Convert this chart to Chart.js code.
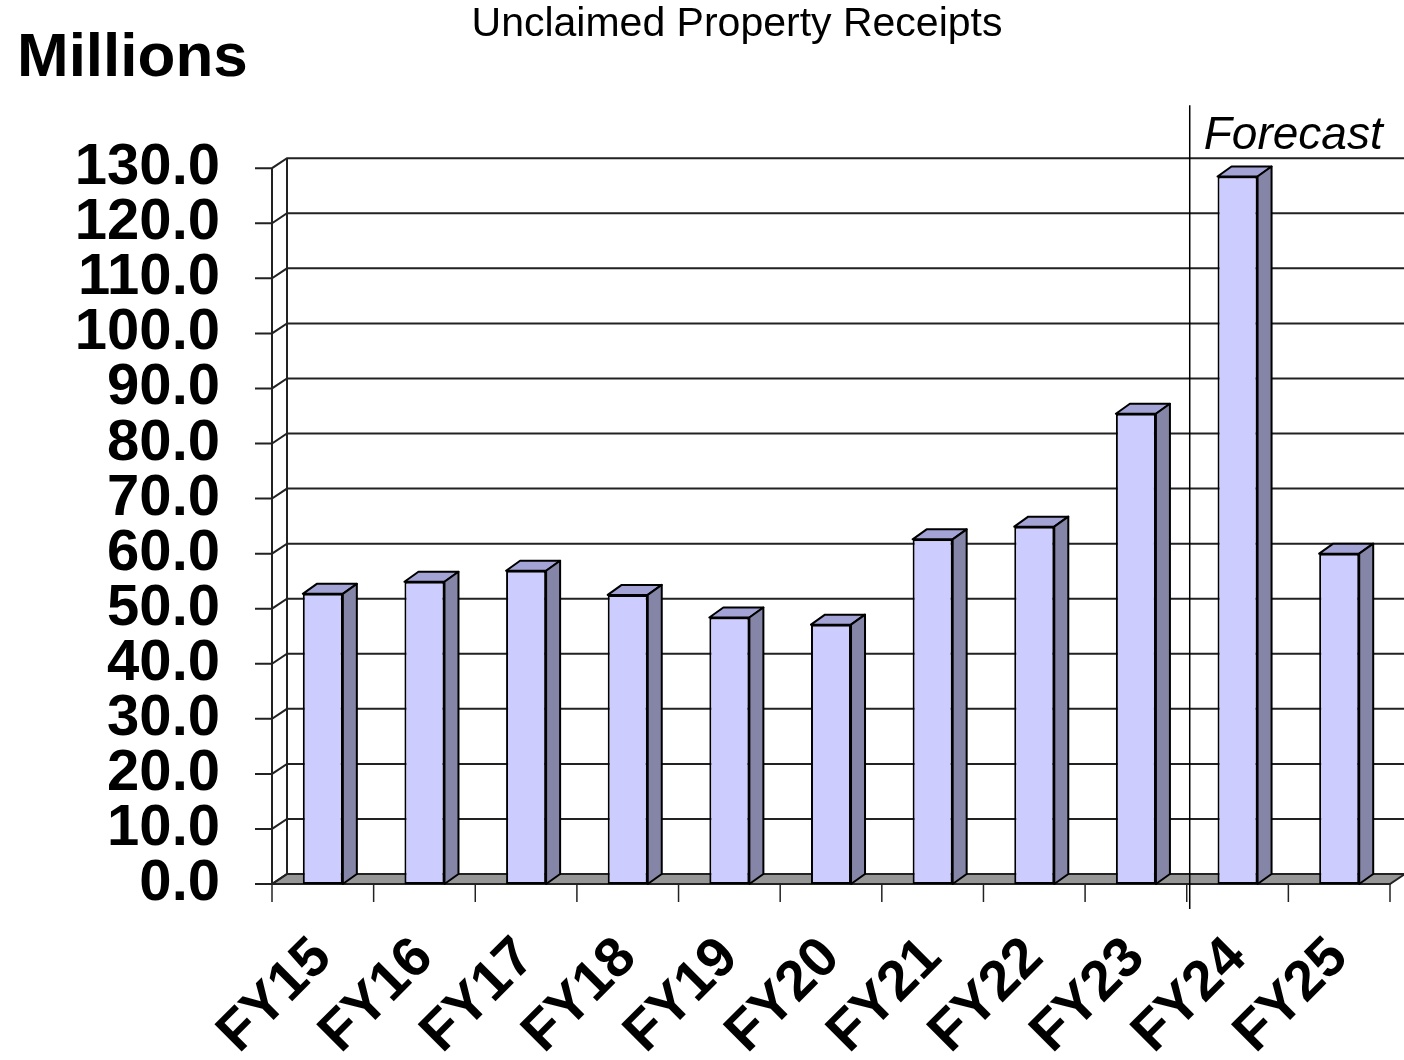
<!DOCTYPE html>
<html>
<head>
<meta charset="utf-8">
<title>Unclaimed Property Receipts</title>
<script src="https://cdn.jsdelivr.net/npm/chart.js@4.4.1/dist/chart.umd.min.js"></script>
<style>
  html, body { margin: 0; padding: 0; background: #fff; }
  #wrap { width: 1404px; height: 1060px; position: relative; }
</style>
</head>
<body>
<div id="wrap"><canvas id="chart"></canvas></div>
<script>
// values (millions)
const fiscalYears = ['FY15', 'FY16', 'FY17', 'FY18', 'FY19', 'FY20', 'FY21', 'FY22', 'FY23', 'FY24', 'FY25'];
const receipts = [52.7, 54.9, 56.9, 52.5, 48.4, 47.1, 62.6, 64.9, 85.4, 128.5, 60.0];
const yMin = 0;
const yMax = 130;
const yStep = 10;
const firstForecastYear = 'FY24';

const FONT = '"Liberation Sans", Arial, Helvetica, sans-serif';
const FRONT = '#ccccff';
const TOP = '#a3a3d6';
const SIDE = '#8585a8';
const FLOOR = '#969696';
const LINE = '#222';

// fake 3D depth of walls and bars
const DX = 15;
const DY = -10;

const frame3d = {
  id: 'frame3d',
  beforeDatasetsDraw(chart) {
    const { ctx, chartArea: a, scales: { x, y } } = chart;
    const y0 = y.getPixelForValue(0);
    ctx.save();
    ctx.lineWidth = 2;
    ctx.strokeStyle = LINE;

    // floor
    ctx.fillStyle = FLOOR;
    ctx.beginPath();
    ctx.moveTo(a.left, y0);
    ctx.lineTo(a.left + DX, y0 + DY);
    ctx.lineTo(a.right + DX, y0 + DY);
    ctx.lineTo(a.right, y0);
    ctx.closePath();
    ctx.fill();
    ctx.stroke();

    // gridlines on back wall, with ticks + diagonals on the side wall
    y.ticks.forEach(t => {
      const py = y.getPixelForValue(t.value);
      ctx.beginPath();
      ctx.moveTo(a.left - 17, py);
      ctx.lineTo(a.left, py);
      ctx.lineTo(a.left + DX, py + DY);
      ctx.lineTo(a.right + DX, py + DY);
      ctx.stroke();
    });

    // wall verticals
    ctx.beginPath();
    ctx.moveTo(a.left, a.top);
    ctx.lineTo(a.left, y0);
    ctx.moveTo(a.left + DX, a.top + DY);
    ctx.lineTo(a.left + DX, y0 + DY);
    ctx.stroke();

    // category ticks under the floor
    ctx.lineWidth = 1.5;
    const step = (a.right - a.left) / fiscalYears.length;
    for (let i = 0; i <= fiscalYears.length; i++) {
      const px = a.left + i * step;
      ctx.beginPath();
      ctx.moveTo(px, y0);
      ctx.lineTo(px, y0 + 18);
      ctx.stroke();
    }
    ctx.restore();
  },
  afterDatasetsDraw(chart) {
    const { ctx, chartArea: a, scales: { x, y } } = chart;
    ctx.save();
    ctx.lineWidth = 2;
    ctx.strokeStyle = '#000';
    ctx.lineJoin = 'round';
    chart.getDatasetMeta(0).data.forEach(bar => {
      const p = bar.getProps(['x', 'y', 'base', 'width'], true);
      const l = p.x - p.width / 2;
      const r = p.x + p.width / 2;

      ctx.fillStyle = TOP;
      ctx.beginPath();
      ctx.moveTo(l, p.y);
      ctx.lineTo(l + DX - 1, p.y + DY);
      ctx.lineTo(r + DX - 1, p.y + DY);
      ctx.lineTo(r, p.y);
      ctx.closePath();
      ctx.fill();
      ctx.stroke();

      ctx.fillStyle = SIDE;
      ctx.beginPath();
      ctx.moveTo(r, p.y);
      ctx.lineTo(r + DX - 1, p.y + DY);
      ctx.lineTo(r + DX - 1, p.base + DY);
      ctx.lineTo(r, p.base);
      ctx.closePath();
      ctx.fill();
      ctx.stroke();
    });

    // forecast divider
    const i = fiscalYears.indexOf(firstForecastYear);
    const fx = (x.getPixelForValue(i - 1) + x.getPixelForValue(i)) / 2 + 3;
    const y0 = y.getPixelForValue(0);
    ctx.strokeStyle = '#000';
    ctx.lineWidth = 1.5;
    ctx.beginPath();
    ctx.moveTo(fx, a.top - 63);
    ctx.lineTo(fx, y0 + 25);
    ctx.stroke();

    ctx.fillStyle = '#000';
    ctx.textAlign = 'left';
    ctx.textBaseline = 'alphabetic';
    ctx.font = 'italic 46px ' + FONT;
    ctx.fillText('Forecast', fx + 14, a.top - 19);

    ctx.font = 'bold 62px ' + FONT;
    ctx.fillText('Millions', 17, 76);
    ctx.restore();
  }
};

const ctx = document.getElementById('chart').getContext('2d');
new Chart(ctx, {
  type: 'bar',
  data: {
    labels: fiscalYears,
    datasets: [{
      label: 'Unclaimed Property Receipts',
      data: receipts,
      backgroundColor: FRONT,
      borderColor: '#000',
      borderWidth: 2,
      borderSkipped: false,
      barPercentage: 0.394,
      categoryPercentage: 1.0,
    }]
  },
  options: {
    responsive: true,
    maintainAspectRatio: false,
    animation: false,
    layout: {
      padding: { left: 70, right: 0, top: 0, bottom: 0 },
    },
    plugins: {
      legend: { display: false },
      tooltip: { enabled: false },
      title: {
        display: true,
        text: 'Unclaimed Property Receipts',
        color: '#000',
        font: { family: FONT, size: 41, weight: 'normal' },
        padding: { top: 0, bottom: 119 },
      },
    },
    scales: {
      x: {
        grid: { display: false, drawTicks: false },
        border: { display: false },
        ticks: {
          color: '#000',
          font: { family: FONT, size: 56, weight: 'bold' },
          minRotation: 45,
          maxRotation: 45,
          autoSkip: false,
          padding: 41,
        },
        afterFit(scale) {
          scale.height = 176;
          scale.paddingLeft = 0;
          scale.paddingRight = 14; // room for the 3D back wall
        },
      },
      y: {
        min: yMin,
        max: yMax,
        grid: { display: false, drawTicks: false },
        border: { display: false },
        ticks: {
          stepSize: yStep,
          autoSkip: false,
          color: '#000',
          font: { family: FONT, size: 58, weight: 'bold' },
          padding: 52,
          callback: v => v.toFixed(1),
        },
        afterFit(scale) {
          scale.width = 202;
          scale.paddingTop = 0;
          scale.paddingBottom = 0;
        },
      }
    }
  },
  plugins: [frame3d]
});
</script>
</body>
</html>
